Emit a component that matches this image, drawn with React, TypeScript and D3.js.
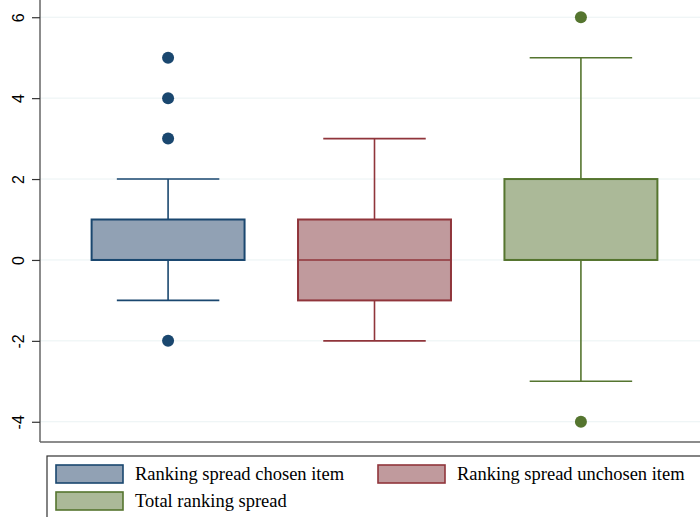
import { useEffect, useRef } from 'react'
import * as d3 from 'd3'

// series names (legend order)
const groups = ['Ranking spread chosen item', 'Ranking spread unchosen item', 'Total ranking spread']
// box stats
const q1 = [0, -1, 0]
const median = [0, 0, 0]
const q3 = [1, 1, 2]
const whiskerLow = [-1, -2, -3]
const whiskerHigh = [2, 3, 5]
const outliers = [[5, 4, 3, -2], [], [6, -4]]
const yTicks = [-4, -2, 0, 2, 4, 6]

const fills = ['#91a1b4', '#c09a9d', '#abb998']
const strokes = ['#1a476f', '#90353b', '#55752f']

export default function App() {
  const ref = useRef<SVGSVGElement>(null)

  useEffect(() => {
    const svg = d3.select(ref.current)
    svg.selectAll('*').remove()

    const left = 40, right = 709, top = -3, bottom = 442

    const x = d3.scaleBand().domain(groups).range([left, right]).paddingInner(0.259).paddingOuter(0.25)
    const y = d3.scaleLinear().domain([-4.5, 6.5]).range([bottom, top])

    // grid
    svg.append('g').selectAll('line').data(yTicks).enter().append('line')
      .attr('x1', left).attr('x2', right)
      .attr('y1', d => y(d)).attr('y2', d => y(d))
      .attr('stroke', '#eaf2f3').attr('stroke-width', 1)

    // plot frame: left axis + bottom
    svg.append('line').attr('x1', left).attr('x2', left).attr('y1', top).attr('y2', bottom)
      .attr('stroke', '#666').attr('stroke-width', 1.5)
    svg.append('line').attr('x1', left).attr('x2', right).attr('y1', bottom).attr('y2', bottom)
      .attr('stroke', '#666').attr('stroke-width', 1.5)

    // y axis (plain hyphen for negatives, like the original)
    const yAxis = d3.axisLeft(y).tickValues(yTicks).tickSize(8).tickPadding(6).tickFormat(d => String(d))
    const ga = svg.append('g').attr('transform', `translate(${left},0)`).call(yAxis)
    ga.select('.domain').remove()
    ga.selectAll('.tick line').attr('stroke', '#333').attr('stroke-width', 1.2)
    ga.selectAll('.tick text')
      .attr('font-family', 'Liberation Sans, Arial, sans-serif').attr('font-size', 16).attr('fill', '#000')
      .attr('x', null).attr('dy', null)
      .attr('text-anchor', 'middle')
      .attr('transform', 'translate(-20,0) rotate(-90)')
      .attr('dominant-baseline', 'middle')

    // boxes
    groups.forEach((g, i) => {
      const bx = x(g)!
      const bw = x.bandwidth()
      const cx = bx + bw / 2
      const capW = bw * 0.67
      const gg = svg.append('g')
      // whiskers
      gg.append('line').attr('x1', cx).attr('x2', cx).attr('y1', y(q3[i])).attr('y2', y(whiskerHigh[i]))
        .attr('stroke', strokes[i]).attr('stroke-width', 1.6)
      gg.append('line').attr('x1', cx).attr('x2', cx).attr('y1', y(q1[i])).attr('y2', y(whiskerLow[i]))
        .attr('stroke', strokes[i]).attr('stroke-width', 1.6)
      gg.append('line').attr('x1', cx - capW / 2).attr('x2', cx + capW / 2)
        .attr('y1', y(whiskerHigh[i])).attr('y2', y(whiskerHigh[i]))
        .attr('stroke', strokes[i]).attr('stroke-width', 1.6)
      gg.append('line').attr('x1', cx - capW / 2).attr('x2', cx + capW / 2)
        .attr('y1', y(whiskerLow[i])).attr('y2', y(whiskerLow[i]))
        .attr('stroke', strokes[i]).attr('stroke-width', 1.6)
      // box
      gg.append('rect').attr('x', bx).attr('y', y(q3[i])).attr('width', bw)
        .attr('height', y(q1[i]) - y(q3[i]))
        .attr('fill', fills[i]).attr('stroke', strokes[i]).attr('stroke-width', 2)
      gg.append('line').attr('x1', bx).attr('x2', bx + bw).attr('y1', y(median[i])).attr('y2', y(median[i]))
        .attr('stroke', strokes[i]).attr('stroke-width', 1.6)
      // outliers
      gg.selectAll('circle').data(outliers[i]).enter().append('circle')
        .attr('cx', cx).attr('cy', d => y(d)).attr('r', 6)
        .attr('fill', strokes[i])
    })

    // legend
    const lg = svg.append('g')
    lg.append('rect').attr('x', 47).attr('y', 456).attr('width', 700).attr('height', 100)
      .attr('fill', '#fff').attr('stroke', '#333').attr('stroke-width', 1.2)
    const pos = [[56, 465], [378, 465], [56, 492]]
    groups.forEach((g, i) => {
      lg.append('rect').attr('x', pos[i][0]).attr('y', pos[i][1]).attr('width', 67).attr('height', 18)
        .attr('fill', fills[i]).attr('stroke', strokes[i]).attr('stroke-width', 1.6)
      lg.append('text').attr('x', pos[i][0] + 79).attr('y', pos[i][1] + 15)
        .attr('font-family', 'Liberation Serif, Times New Roman, serif').attr('font-size', 18.5)
        .attr('fill', '#000').text(g)
    })
  }, [])

  return (
    <svg ref={ref} width={700} height={517}
      style={{ position: 'absolute', left: 0, top: 0, background: '#fff' }} />
  )
}
